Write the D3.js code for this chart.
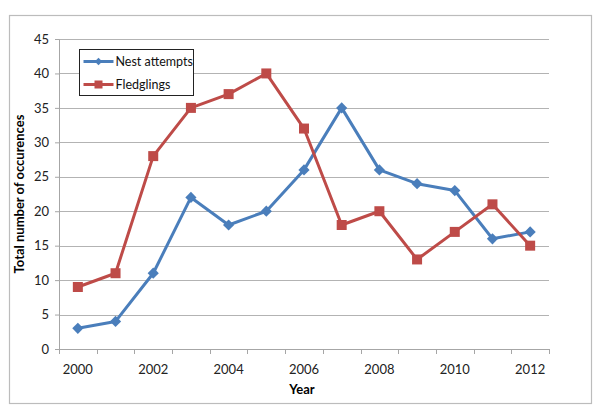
<!DOCTYPE html>
<html>
<head>
<meta charset="utf-8">
<script src="https://cdn.jsdelivr.net/npm/d3@7"></script>
<style>
  body { margin: 0; background: #fff; }
  text { font-family: Lato, "Liberation Sans", sans-serif; }
</style>
</head>
<body>
<div id="chart"></div>
<script>
// data
var years = [2000, 2001, 2002, 2003, 2004, 2005, 2006, 2007, 2008, 2009, 2010, 2011, 2012];
var nestAttempts = [3, 4, 11, 22, 18, 20, 26, 35, 26, 24, 23, 16, 17];
var fledglings = [9, 11, 28, 35, 37, 40, 32, 18, 20, 13, 17, 21, 15];
var yTicks = [0, 5, 10, 15, 20, 25, 30, 35, 40, 45];
var xLabels = [2000, 2002, 2004, 2006, 2008, 2010, 2012];

var W = 600, H = 419;
var margin = { top: 39, left: 59, right: 51, bottom: 70 };
var width = W - margin.left - margin.right,
    height = H - margin.top - margin.bottom;

var svg = d3.select("#chart").append("svg").attr("width", W).attr("height", H);

// outer chart border
svg.append("rect").attr("x", 9.5).attr("y", 15.5).attr("width", 582).attr("height", 388)
  .attr("fill", "#fff").attr("stroke", "#bcbcbc").attr("stroke-width", 1.2);

var g = svg.append("g").attr("transform", "translate(" + margin.left + "," + margin.top + ")");

var x = d3.scaleBand().domain(years).range([0, width]);
var y = d3.scaleLinear().domain([0, 45]).range([height, 0]);

// gridlines
g.selectAll(".grid").data(yTicks.slice(1)).enter().append("line")
  .attr("x1", 0).attr("x2", width)
  .attr("y1", function (d) { return Math.round(y(d)) + 0.5; })
  .attr("y2", function (d) { return Math.round(y(d)) + 0.5; })
  .attr("stroke", "#b3b3b3").attr("stroke-width", 1);

// y axis
var yAxis = g.append("g").call(d3.axisLeft(y).tickValues(yTicks).tickSize(4).tickPadding(6));
yAxis.select(".domain").attr("stroke", "#a6a6a6");
yAxis.selectAll(".tick line").attr("stroke", "#a6a6a6");
yAxis.selectAll(".tick text").attr("font-size", 13).attr("fill", "#222");

// x axis, ticks between categories
var xAxis = g.append("g").attr("transform", "translate(0," + height + ")");
xAxis.append("line").attr("x1", 0).attr("x2", width).attr("y1", 0.5).attr("y2", 0.5)
  .attr("stroke", "#a6a6a6");
xAxis.selectAll(".xt").data(years.concat([null])).enter().append("line")
  .attr("x1", function (d, i) { return Math.round(i * x.step()) + 0.5; })
  .attr("x2", function (d, i) { return Math.round(i * x.step()) + 0.5; })
  .attr("y1", 0).attr("y2", 5).attr("stroke", "#a6a6a6");
xAxis.selectAll(".xl").data(xLabels).enter().append("text")
  .attr("x", function (d) { return x(d) + x.bandwidth() / 2; })
  .attr("y", 25).attr("text-anchor", "middle").attr("font-size", 13).attr("fill", "#222")
  .text(function (d) { return d; });

// axis titles
svg.append("text").attr("x", 302).attr("y", 394).attr("text-anchor", "middle")
  .attr("font-size", 13).attr("font-weight", "bold").text("Year");
svg.append("text").attr("transform", "translate(24," + (margin.top + height / 2) + ") rotate(-90)")
  .attr("text-anchor", "middle").attr("font-size", 13).attr("font-weight", "bold")
  .text("Total number of occurences");

var cx = function (i) { return x(years[i]) + x.bandwidth() / 2; };
var line = d3.line().x(function (d, i) { return cx(i); }).y(function (d) { return y(d); });

var blue = "#4a7ebb", red = "#be4b48";

g.append("path").datum(nestAttempts).attr("d", line).attr("fill", "none")
  .attr("stroke", blue).attr("stroke-width", 3).attr("stroke-linejoin", "round");
g.append("path").datum(fledglings).attr("d", line).attr("fill", "none")
  .attr("stroke", red).attr("stroke-width", 3).attr("stroke-linejoin", "round");

var diamond = d3.symbol().type(d3.symbolDiamond2).size(80);
g.selectAll(".nest").data(nestAttempts).enter().append("path")
  .attr("d", diamond)
  .attr("transform", function (d, i) { return "translate(" + cx(i) + "," + y(d) + ")"; })
  .attr("fill", blue);

g.selectAll(".fled").data(fledglings).enter().append("rect")
  .attr("x", function (d, i) { return cx(i) - 5; })
  .attr("y", function (d) { return y(d) - 5; })
  .attr("width", 10).attr("height", 10).attr("fill", red);

// legend
var lg = svg.append("g").attr("transform", "translate(79.5,49.5)");
lg.append("rect").attr("width", 114).attr("height", 46).attr("fill", "#fff")
  .attr("stroke", "#222").attr("stroke-width", 1);
var series = [{ name: "Nest attempts", color: blue, shape: "d" }, { name: "Fledglings", color: red, shape: "s" }];
series.forEach(function (s, i) {
  var yy = 12 + i * 23;
  lg.append("line").attr("x1", 4).attr("x2", 34).attr("y1", yy).attr("y2", yy)
    .attr("stroke", s.color).attr("stroke-width", 3);
  if (s.shape === "d") {
    lg.append("path").attr("d", d3.symbol().type(d3.symbolDiamond2).size(35))
      .attr("transform", "translate(19," + yy + ")").attr("fill", s.color);
  } else {
    lg.append("rect").attr("x", 15).attr("y", yy - 4).attr("width", 8).attr("height", 8).attr("fill", s.color);
  }
  lg.append("text").attr("x", 36).attr("y", yy + 4.5).attr("font-size", 12.5).attr("fill", "#111").text(s.name);
});
</script>
</body>
</html>
